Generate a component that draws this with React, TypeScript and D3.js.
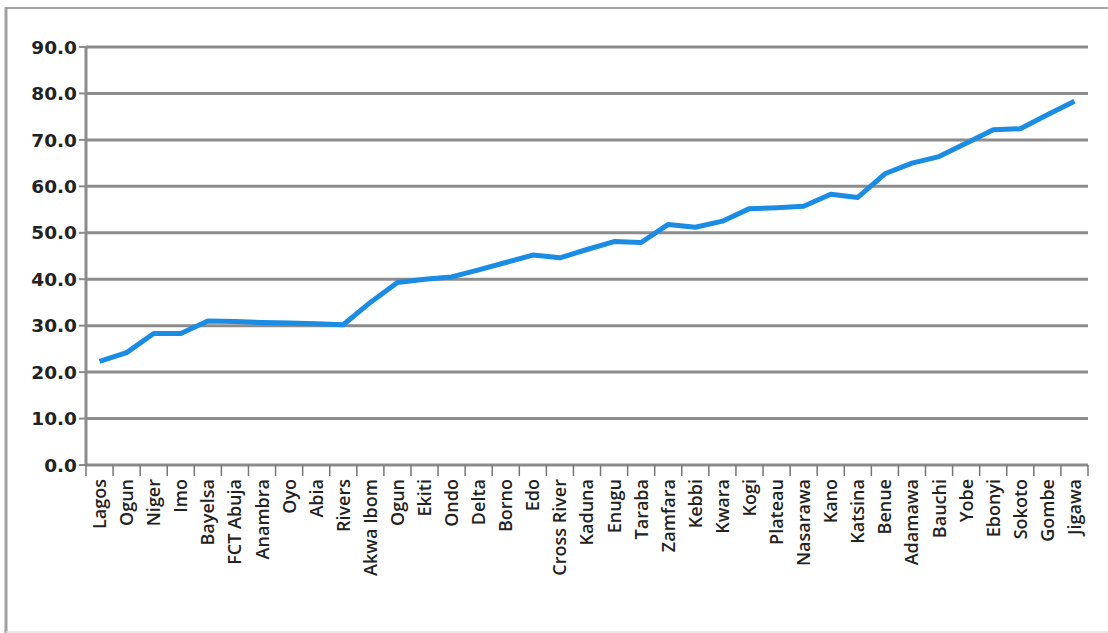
import * as d3 from "d3";

const states = [
  "Lagos", "Ogun", "Niger", "Imo", "Bayelsa", "FCT Abuja", "Anambra", "Oyo", "Abia", "Rivers",
  "Akwa Ibom", "Ogun", "Ekiti", "Ondo", "Delta", "Borno", "Edo", "Cross River", "Kaduna", "Enugu",
  "Taraba", "Zamfara", "Kebbi", "Kwara", "Kogi", "Plateau", "Nasarawa", "Kano", "Katsina", "Benue",
  "Adamawa", "Bauchi", "Yobe", "Ebonyi", "Sokoto", "Gombe", "Jigawa",
];

const values = [
  22.3, 24.2, 28.3, 28.3, 31.0, 30.9, 30.7, 30.6, 30.4, 30.2,
  35.0, 39.3, 40.0, 40.5, 42.0, 43.6, 45.2, 44.6, 46.4, 48.1,
  47.9, 51.8, 51.2, 52.5, 55.2, 55.4, 55.7, 58.3, 57.6, 62.7,
  65.0, 66.4, 69.3, 72.2, 72.4, 75.4, 78.3,
];

const yTicks = [0, 10, 20, 30, 40, 50, 60, 70, 80, 90];

const WIDTH = 1108;
const HEIGHT = 633;
const MARGIN = { top: 47, right: 20, bottom: 168, left: 86 };
const GRID = "#8c8c8c";

export default function App() {
  const innerW = WIDTH - MARGIN.left - MARGIN.right;
  const innerH = HEIGHT - MARGIN.top - MARGIN.bottom;

  const x = d3.scaleBand<number>().domain(d3.range(states.length)).range([0, innerW]);
  const y = d3.scaleLinear().domain([0, 90]).range([innerH, 0]);

  const line = d3
    .line<number>()
    .x((_, i) => x(i)! + x.bandwidth() / 2)
    .y((d) => y(d));

  return (
    <svg width={WIDTH} height={HEIGHT} style={{ position: "absolute", left: 0, top: 0 }}>
      <rect width={WIDTH} height={HEIGHT} fill="#fff" />
      {/* outer frame */}
      <line x1={6} x2={WIDTH} y1={8} y2={8} stroke="#a6a6a6" strokeWidth={2} />
      <line x1={6} x2={6} y1={7} y2={HEIGHT} stroke="#a0a0a0" strokeWidth={3} />
      <line x1={6} x2={WIDTH} y1={632} y2={632} stroke="#e0e0e0" strokeWidth={1.5} />

      <g transform={`translate(${MARGIN.left},${MARGIN.top})`}>
        {yTicks.map((t) => (
          <g key={t} transform={`translate(0,${y(t)})`}>
            <line x1={0} x2={innerW} stroke={GRID} strokeWidth={3} />
            <line x1={-7} x2={0} stroke={GRID} strokeWidth={2} />
            <text
              x={-9}
              dy="0.36em"
              textAnchor="end"
              fontFamily="DejaVu Sans"
              fontWeight="bold"
              fontSize={18.5}
              fill="#222"
            >
              {d3.format(".1f")(t)}
            </text>
          </g>
        ))}
        <line x1={0} x2={0} y1={y(90) - 1} y2={innerH + 1} stroke={GRID} strokeWidth={3} />

        {/* x axis ticks at band edges */}
        {d3.range(states.length + 1).map((i) => {
          const xx = i * x.step();
          return <line key={i} x1={xx} x2={xx} y1={innerH} y2={innerH + 11} stroke="#777" strokeWidth={1.5} />;
        })}

        {states.map((s, i) => (
          <text
            key={i}
            transform={`translate(${x(i)! + x.bandwidth() / 2},${innerH + 14}) rotate(-90)`}
            textAnchor="end"
            dy="0.36em"
            fontFamily="Open Sans"
            fontWeight={600}
            fontSize={18}
            fill="#222"
          >
            {s}
          </text>
        ))}

        <path
          d={line(values) ?? ""}
          fill="none"
          stroke="#1a8ce3"
          strokeWidth={5}
          strokeLinejoin="round"
        />
      </g>
    </svg>
  );
}
